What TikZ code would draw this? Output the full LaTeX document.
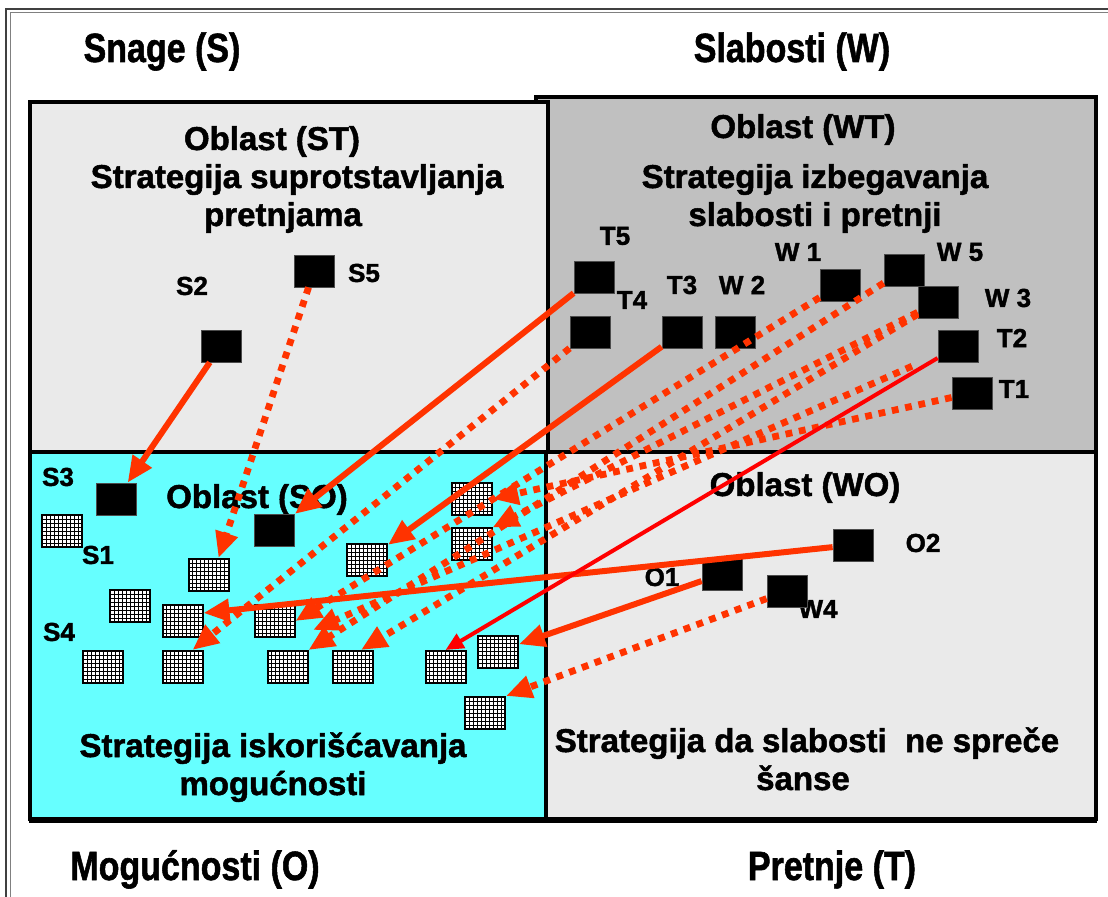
\documentclass[tikz,border=0pt]{standalone}
\usepackage{fontspec}
\setmainfont{Liberation Sans}[BoldFeatures={FakeBold=1.5}]
\usetikzlibrary{arrows.meta,calc}
\definecolor{orr}{HTML}{FF3300}
\definecolor{stgray}{HTML}{EAEAEA}
\definecolor{wtgray}{HTML}{C0C0C0}
\definecolor{cyanb}{HTML}{66FFFF}
\begin{document}
\begin{tikzpicture}[x=0.5pt,y=-0.5pt,
  sq/.style={fill=black, draw=black!70, line width=0.4pt, minimum width=20pt, minimum height=16pt, inner sep=0pt},
  gb/.style={fill=white, draw=black, line width=1pt, minimum width=20pt, minimum height=16pt, inner sep=0pt,
    path picture={\draw[line width=0.35pt] (path picture bounding box.south west) grid[step=2pt] (path picture bounding box.north east);}},
  lbl/.style={font=\fontsize{13}{15}\selectfont\bfseries, inner sep=0pt},
  ttl/.style={font=\fontsize{17}{20}\selectfont\bfseries, anchor=base, inner sep=0pt},
  inr/.style={font=\fontsize{16.5}{19}\selectfont\bfseries, anchor=base, inner sep=0pt},
  solidarr/.style={draw=orr, line width=3pt, -{Triangle[length=13pt,width=11pt]}},
  dotarr/.style={draw=orr, line width=3.4pt, dash pattern=on 3.4pt off 3.4pt, -{Triangle[length=13pt,width=11pt]}},
  redarr/.style={draw=red, line width=2pt, -{Triangle[length=9pt,width=8pt]}},
  quad/.style={draw=black, line width=2pt},
]
\useasboundingbox (0,0) rectangle (1108,897);
\fill[white] (0,0) rectangle (1108,897);
% outer frame
\draw[line width=1pt, black!75] (1108,9) -- (6,9) -- (6,897);
\draw[line width=0.5pt, black!50] (1108,13) -- (10,13) -- (10,897);

% quadrants
\draw[quad, fill=wtgray] (536,97) rectangle (1096,452);
\draw[quad, fill=stgray] (30,102) rectangle (548,452);
\draw[quad, fill=cyanb] (30,452) rectangle (546,819);
\draw[quad, fill=stgray] (546,452) rectangle (1096,819);
\draw[line width=3pt] (29,820) -- (1097,820);

% titles
\node[ttl] (tS) at (162,62) {\scalebox{1}[1.2]{Snage (S)}};
\node[ttl] (tW) at (792,62) {\scalebox{1}[1.2]{Slabosti (W)}};
\node[ttl] (tO) at (195,880) {\scalebox{1}[1.2]{Mogućnosti (O)}};
\node[ttl] (tT) at (832,880) {\scalebox{1}[1.2]{Pretnje (T)}};

% inner texts
\node[inr] (st1) at (272,150) {Oblast (ST)};
\node[inr] (st2) at (297,188) {Strategija suprotstavljanja};
\node[inr] (st3) at (283,226) {pretnjama};
\node[inr] (wt1) at (803,138) {Oblast (WT)};
\node[inr] (wt2) at (815,188) {Strategija izbegavanja};
\node[inr] (wt3) at (815,226) {slabosti i pretnji};
\node[inr] (so1) at (257,508) {Oblast (SO)};
\node[inr] (wo1) at (805,496) {Oblast (WO)};
\node[inr] (so2) at (273,757) {Strategija iskorišćavanja};
\node[inr] (so3) at (273,795) {mogućnosti};
\node[inr] (wo2) at (807,752) {Strategija da slabosti\ \ ne spreče};
\node[inr] (wo3) at (803,790) {šanse};

% labels
\node[lbl] (lS2) at (192,286) {S2};
\node[lbl] (lS5) at (364,273) {S5};
\node[lbl] (lS3) at (58,477) {S3};
\node[lbl] (lS1) at (98,555) {S1};
\node[lbl] (lS4) at (59,632) {S4};
\node[lbl] (lT5) at (615,236) {T5};
\node[lbl] (lT4) at (632,300) {T4};
\node[lbl] (lT3) at (682,285) {T3};
\node[lbl] (lW2) at (742,285) {W 2};
\node[lbl] (lW1) at (798,252) {W 1};
\node[lbl] (lW5) at (960,252) {W 5};
\node[lbl] (lW3) at (1008,298) {W 3};
\node[lbl] (lT2) at (1012,338) {T2};
\node[lbl] (lT1) at (1014,389) {T1};
\node[lbl] (lO2) at (923,543) {O2};
\node[lbl] (lO1) at (662,577) {O1};
\node[lbl] (lW4) at (818,609) {W4};

% black squares
\node[sq] (sS2) at (221,346) {};
\node[sq] (sS5) at (314,271) {};
\node[sq] (sS3) at (116.5,499) {};
\node[sq] (sSO) at (274.5,530) {};
\node[sq] (sT5) at (594,277) {};
\node[sq] (sT4) at (590,332) {};
\node[sq] (sT3) at (682,332) {};
\node[sq] (sW2) at (735,332) {};
\node[sq] (sW1) at (840,285) {};
\node[sq] (sW5) at (904,270) {};
\node[sq] (sW3) at (938,302) {};
\node[sq] (sT2) at (958,346) {};
\node[sq] (sT1) at (972,393) {};
\node[sq] (sO2) at (853,545) {};
\node[sq] (sO1) at (722,574) {};
\node[sq] (sW4) at (787,591) {};

% grid boxes
\node[gb] (g1) at (62,531) {};
\node[gb] (g2) at (130,606) {};
\node[gb] (g3) at (208.5,575) {};
\node[gb] (g4) at (182.5,621) {};
\node[gb] (g5) at (103,667) {};
\node[gb] (g6) at (182.5,667) {};
\node[gb] (g7) at (274.5,621) {};
\node[gb] (g8) at (287.5,667) {};
\node[gb] (g9) at (353,667) {};
\node[gb] (g10) at (367,560) {};
\node[gb] (g11) at (471.5,499) {};
\node[gb] (g12) at (471.5,544.5) {};
\node[gb] (g13) at (445.5,667) {};
\node[gb] (g14) at (498,651.5) {};
\node[gb] (g15) at (485,713) {};

\coordinate (c1) at (313,630);

% dotted arrows
\draw[dotarr] (sS5) -- ($(g3.north)+(10,0)$);
\draw[dotarr] (sT4) -- ($(g6.north)+(10,0)$);
\draw[dotarr] (sW1) -- (g7.east);
\draw[dotarr] (sW5) -- (g8.north east);
\draw[dotarr] (sW3) -- (g12.north east);
\draw[dotarr] (sW3) -- ($(g9.north)+(8,0)$);
\draw[dotarr, shorten <=14pt] (sT2) -- (c1);
\draw[dotarr] (sT1) -- (g11.east);
\draw[dotarr] (sW4) -- (g15.north east);

% solid arrows
\draw[solidarr] (sS2) -- (sS3);
\draw[solidarr] (sT5) -- (sSO);
\draw[solidarr] (sT3) -- (g10);
\draw[solidarr] (sO2) -- ($(g4.east)+(0,-8)$);
\draw[solidarr] (sO1) -- (g14);
\draw[redarr] (sT2) -- (g13.north);
\end{tikzpicture}
\end{document}
